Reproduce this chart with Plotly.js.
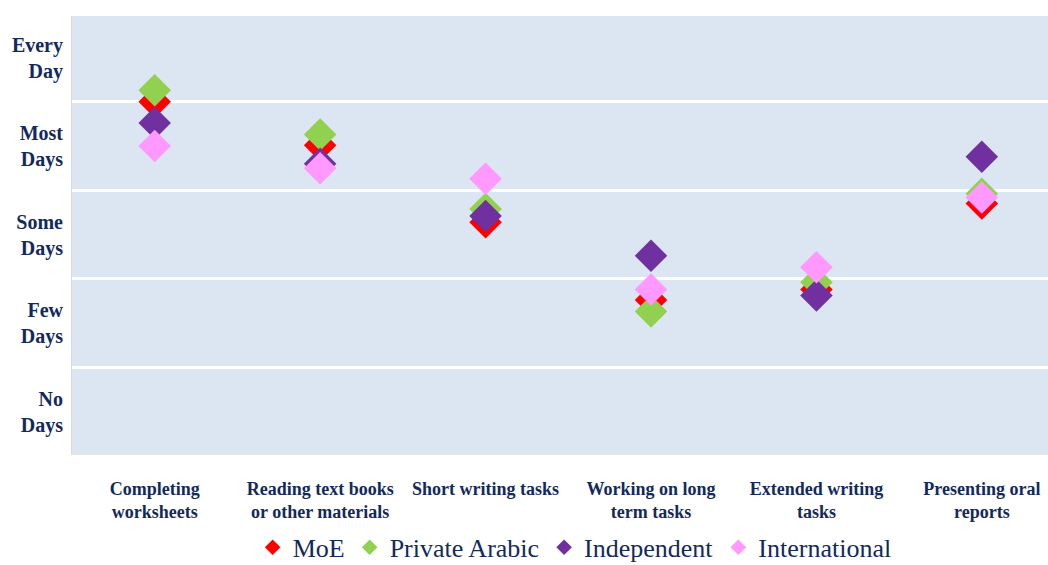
<!DOCTYPE html>
<html>
<head>
<meta charset="utf-8">
<script src="https://cdn.plot.ly/plotly-3.0.1.min.js"></script>
<style>
  html, body { margin: 0; padding: 0; background: #ffffff; }
  #chart { width: 1048px; height: 565px; }
</style>
</head>
<body>
<div id="chart"></div>
<script>
const categories = [
  "Completing<br>worksheets",
  "Reading text books<br>or other materials",
  "Short writing tasks",
  "Working on long<br>term tasks",
  "Extended writing<br>tasks",
  "Presenting oral<br>reports"
];
const seriesNames = ["MoE", "Private Arabic", "Independent", "International"];
const moe           = [4.00, 3.51, 2.64, 1.76, 1.88, 2.85];
const privateArabic = [4.13, 3.63, 2.79, 1.63, 1.96, 2.96];
const independent   = [3.76, 3.30, 2.71, 2.26, 1.81, 3.38];
const international = [3.50, 3.25, 3.13, 1.88, 2.13, 2.92];
const frequencyVals = [0.5, 1.5, 2.5, 3.5, 4.5];
const frequencyLabels = ["No<br>Days", "Few<br>Days", "Some<br>Days", "Most<br>Days", "Every<br>Day"];
const bandEdges = [1, 2, 3, 4];

const colors = ["#ff0000", "#92d050", "#7030a0", "#ff99ff"];
const seriesValues = [moe, privateArabic, independent, international];
const navy = "#13295c";
const serif = "Liberation Serif, Times New Roman, serif";

const traces = seriesValues.map((vals, i) => ({
  type: "scatter",
  mode: "markers",
  name: seriesNames[i],
  x: categories,
  y: vals,
  marker: { symbol: "diamond", size: 25, color: colors[i], line: { width: 0 } },
  hoverinfo: "x+y+name"
}));

const layout = {
  width: 1048,
  height: 565,
  margin: { l: 72, r: 0, t: 16, b: 111, autoexpand: false },
  paper_bgcolor: "#ffffff",
  plot_bgcolor: "#dce6f2",
  font: { family: serif, color: navy },
  showlegend: true,
  legend: {
    orientation: "h",
    x: 0.515, xanchor: "center",
    y: -0.213, yanchor: "middle",
    font: { family: serif, size: 26, color: navy },
    bgcolor: "rgba(0,0,0,0)",
    itemsizing: "constant",
    traceorder: "normal"
  },
  xaxis: {
    type: "category",
    range: [-0.5, 5.4],
    showgrid: false,
    zeroline: false,
    showline: true,
    linecolor: "#e4e4e4",
    linewidth: 1,
    ticks: "",
    ticklabelstandoff: 18,
    automargin: false,
    tickfont: { family: serif, size: 18, color: navy, weight: "bold" },
    fixedrange: true
  },
  yaxis: {
    range: [0.02, 4.97],
    tickmode: "array",
    tickvals: frequencyVals,
    ticktext: frequencyLabels,
    showgrid: false,
    zeroline: false,
    showline: true,
    linecolor: "#d9d9d9",
    linewidth: 1,
    ticks: "",
    ticklabelstandoff: 4,
    automargin: false,
    tickfont: { family: serif, size: 20, color: navy, weight: "bold" },
    minor: {
      tickmode: "array",
      tickvals: bandEdges,
      showgrid: true,
      gridcolor: "#ffffff",
      gridwidth: 3,
      ticks: ""
    },
    fixedrange: true
  }
};

Plotly.newPlot("chart", traces, layout, { displayModeBar: false, responsive: false });
</script>
</body>
</html>
